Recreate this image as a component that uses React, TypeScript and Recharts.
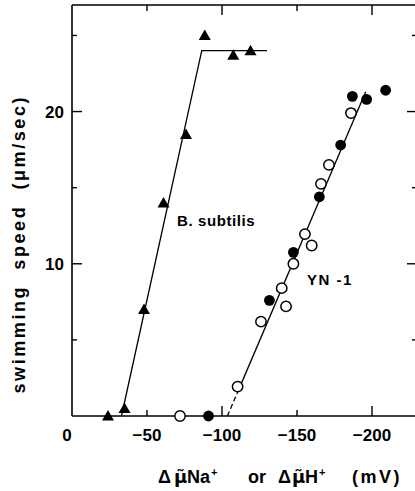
import React from 'react';
import { ComposedChart, XAxis, YAxis, Scatter, Line, ReferenceLine, ReferenceDot } from 'recharts';

const xTicks = [0, -50, -100, -150, -200];
const xTickLabels: Record<number, string> = { 0: '0', [-50]: '\u221250', [-100]: '\u2212100', [-150]: '\u2212150', [-200]: '\u2212200' };
const yTicks = [5, 10, 15, 20, 25];
const yTickLabels: Record<number, string> = { 10: '10', 20: '20' };

// B. subtilis (triangles)
const bsubX = [-24, -35, -48, -61, -76, -88.5, -107.5, -119];
const bsubY = [0, 0.5, 7.0, 14.0, 18.5, 25.0, 23.7, 24.0];
const bsubFitX = [-33, -86.5, -130];
const bsubFitY = [0, 24, 24];

// YN-1 open circles
const ynOpenX = [-72, -110.4, -126, -139.8, -142.7, -147.6, -155.3, -159.8, -166, -171.3, -186];
const ynOpenY = [0, 1.93, 6.2, 8.4, 7.2, 10.0, 11.95, 11.2, 15.25, 16.5, 19.9];
// YN-1 filled circles
const ynFillX = [-91, -131.6, -147.6, -164.9, -179.1, -186.9, -196.4, -209.1];
const ynFillY = [0, 7.6, 10.75, 14.4, 17.8, 21.0, 20.8, 21.4];
// YN-1 fit line
const ynSolidX = [-111, -195.8];
const ynSolidY = [1.7, 21.3];
const ynDashX = [-103.6, -111];
const ynDashY = [0, 1.7];

const zip = (xs: number[], ys: number[]) => xs.map((x, i) => ({ x, y: ys[i] }));
const bsubPts = zip(bsubX, bsubY);
const bsubFit = zip(bsubFitX, bsubFitY);
const ynOpen = zip(ynOpenX, ynOpenY);
const ynFill = zip(ynFillX, ynFillY);
const ynSolid = zip(ynSolidX, ynSolidY);
const ynDash = zip(ynDashX, ynDashY);

const FONT = '"Liberation Sans", Arial, Helvetica, sans-serif';
const MU_FONT = '"DejaVu Sans", "Liberation Sans", sans-serif';
const PLOT_TOP = 5;
const PLOT_RIGHT = 417;

const XTick = (props: any) => {
  const { x, y, payload } = props;
  const v = payload.value;
  const len = v === -100 || v === -200 ? 10 : 6;
  return (
    <g>
      {v !== 0 && <line x1={x} y1={y} x2={x} y2={y - len} stroke="#000" strokeWidth={1.4} />}
      {v !== 0 && <line x1={x} y1={PLOT_TOP} x2={x} y2={PLOT_TOP + len} stroke="#000" strokeWidth={1.4} />}
      <text x={v === 0 ? x - 5 : x} y={y + 25} textAnchor="middle" fontSize={17} fontWeight="bold" fontFamily={FONT} fill="#000">
        {xTickLabels[v]}
      </text>
    </g>
  );
};

const YTick = (props: any) => {
  const { x, y, payload } = props;
  const v = payload.value;
  const len = v === 10 || v === 20 ? 10 : 5;
  return (
    <g>
      <line x1={x} y1={y} x2={x + len} y2={y} stroke="#000" strokeWidth={1.4} />
      <line x1={PLOT_RIGHT - len} y1={y} x2={PLOT_RIGHT} y2={y} stroke="#000" strokeWidth={1.4} />
      {yTickLabels[v] && (
        <text x={x - 8} y={y + 6} textAnchor="end" fontSize={17} fontWeight="bold" fontFamily={FONT} fill="#000">
          {yTickLabels[v]}
        </text>
      )}
    </g>
  );
};

const Triangle = (props: any) => {
  const { cx, cy } = props;
  return <polygon points={`${cx},${cy - 6} ${cx - 6},${cy + 4.5} ${cx + 6},${cy + 4.5}`} fill="#000" />;
};
const OpenCircle = (props: any) => <circle cx={props.cx} cy={props.cy} r={5.2} fill="#fff" stroke="#000" strokeWidth={1.5} />;
const FilledCircle = (props: any) => <circle cx={props.cx} cy={props.cy} r={5.4} fill="#000" />;

const YLabel = (props: any) => {
  const vb = props.viewBox;
  const cy = vb.y + vb.height / 2 + 35;
  return (
    <text
      x={25}
      y={cy}
      transform={`rotate(-90, 25, ${cy})`}
      textAnchor="middle"
      fontSize={18}
      fontWeight="bold"
      fontFamily={FONT}
      fill="#000"
      textLength={296}
      lengthAdjust="spacing"
      style={{ whiteSpace: 'pre' }}
    >
      {'swimming  speed  (\u03bcm/sec)'}
    </text>
  );
};

const XLabel = () => {
  const base = 483;
  return (
    <g fontSize={18} fontWeight="bold" fontFamily={FONT} fill="#000">
      <text x={158} y={base}>{'\u0394'}</text>
      <text x={174} y={base} fontFamily={MU_FONT}>{'\u03bc\u0303'}</text>
      <text x={187} y={base}>Na</text>
      <text x={211} y={base - 7} fontSize={11}>+</text>
      <text x={248} y={base}>or</text>
      <text x={278} y={base}>{'\u0394'}</text>
      <text x={292} y={base} fontFamily={MU_FONT}>{'\u03bc\u0303'}</text>
      <text x={305} y={base}>H</text>
      <text x={319} y={base - 7} fontSize={11}>+</text>
      <text x={352} y={base} letterSpacing={2.5}>(mV)</text>
    </g>
  );
};

const TextMark = (text: string, spacing: number) => (props: any) => (
  <text x={props.cx} y={props.cy} fontSize={15} fontWeight="bold" letterSpacing={spacing} fontFamily={FONT} fill="#000" textAnchor="start">
    {text}
  </text>
);

export default function App() {
  return (
    <div style={{ position: 'absolute', left: 0, top: 0, width: 415, height: 491, overflow: 'hidden', background: '#fff' }}>
      <ComposedChart width={PLOT_RIGHT} height={491} margin={{ top: PLOT_TOP, right: 0, bottom: 0, left: 0 }}>
        <XAxis
          dataKey="x"
          type="number"
          domain={[-230, 0]}
          reversed
          ticks={xTicks}
          interval={0}
          height={75}
          tickSize={0}
          tickMargin={0}
          tickLine={false}
          axisLine={{ stroke: '#000', strokeWidth: 1.6 }}
          tick={XTick}
          label={<XLabel />}
        />
        <YAxis
          dataKey="y"
          type="number"
          domain={[0, 27]}
          ticks={yTicks}
          interval={0}
          width={72}
          tickSize={0}
          tickMargin={0}
          tickLine={false}
          axisLine={{ stroke: '#000', strokeWidth: 1.6 }}
          tick={YTick}
          label={<YLabel />}
        />
        <ReferenceLine y={27} stroke="#000" strokeWidth={1.6} />
        <Line data={bsubFit} dataKey="y" stroke="#000" strokeWidth={1.3} dot={false} isAnimationActive={false} />
        <Line data={ynSolid} dataKey="y" stroke="#000" strokeWidth={1.3} dot={false} isAnimationActive={false} />
        <Line data={ynDash} dataKey="y" stroke="#000" strokeWidth={1.3} strokeDasharray="5 3" dot={false} isAnimationActive={false} />
        <Scatter data={bsubPts} dataKey="y" shape={Triangle} isAnimationActive={false} />
        <Scatter data={ynOpen} dataKey="y" shape={OpenCircle} isAnimationActive={false} />
        <Scatter data={ynFill} dataKey="y" shape={FilledCircle} isAnimationActive={false} />
        <ReferenceDot x={-70} y={12.48} r={0} shape={TextMark('B. subtilis', 0.6)} />
        <ReferenceDot x={-156.7} y={8.6} r={0} shape={TextMark('YN -1', 1.5)} />
      </ComposedChart>
    </div>
  );
}
